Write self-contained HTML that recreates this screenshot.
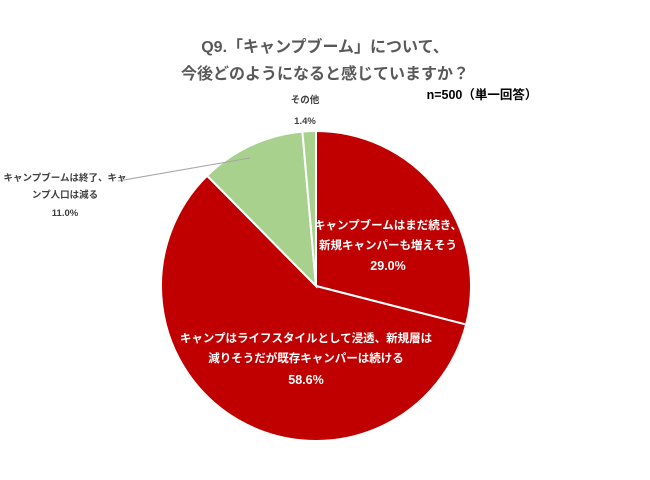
<!DOCTYPE html>
<html><head><meta charset="utf-8"><style>
body{margin:0;background:#fff;}
svg text{font-family:"Liberation Sans","Noto Sans CJK JP",sans-serif;font-weight:bold;}
</style></head><body>
<svg width="650" height="475">
<text x="325" y="52" text-anchor="middle" font-size="16" fill="#595959">Q9.「キャンプブーム」について、</text>
<text x="325" y="79" text-anchor="middle" font-size="16" fill="#595959">今後どのようになると感じていますか？</text>
<text x="482" y="99" text-anchor="middle" font-size="12.5" fill="#000">n=500（単一回答）</text>
<g id="slices"></g>
<line x1="118" y1="181" x2="250" y2="158" stroke="#a6a6a6" stroke-width="1"/>
<g font-size="9.5" fill="#404040" text-anchor="middle">
<text x="305" y="103">その他</text>
<text x="305" y="124">1.4%</text>
<text x="65" y="181">キャンプブームは終了、キャ</text>
<text x="65" y="198">ンプ人口は減る</text>
<text x="65" y="216">11.0%</text>
</g>
<g font-size="11.5" fill="#fff" text-anchor="middle">
<text x="388" y="229">キャンプブームはまだ続き、</text>
<text x="388" y="249">新規キャンパーも増えそう</text>
<text x="388" y="270" font-size="12.5">29.0%</text>
<text x="306" y="342">キャンプはライフスタイルとして浸透、新規層は</text>
<text x="306" y="362">減りそうだが既存キャンパーは続ける</text>
<text x="306" y="384" font-size="12.5">58.6%</text>
</g>
</svg>
<script>
const categories=["continue","settle","end","other"];
const values=[29.0,58.6,11.0,1.4];
const colors=["#C00000","#C00000","#A9D18E","#A9D18E"];
const cx=316,cy=286,r=155;
const g=document.getElementById('slices');
const total=values.reduce((a,b)=>a+b,0);
let a0=0;
values.forEach((v,i)=>{
  const a1=a0+v/total*2*Math.PI;
  const p=(a)=>[cx+r*Math.sin(a),cy-r*Math.cos(a)];
  const [x0,y0]=p(a0),[x1,y1]=p(a1);
  const large=(a1-a0)>Math.PI?1:0;
  const path=document.createElementNS('http://www.w3.org/2000/svg','path');
  path.setAttribute('d',`M${cx},${cy}L${x0},${y0}A${r},${r} 0 ${large} 1 ${x1},${y1}Z`);
  path.setAttribute('fill',colors[i]);
  path.setAttribute('stroke','#fff');
  path.setAttribute('stroke-width','2');
  
  
  g.appendChild(path);
  a0=a1;
});
</script>
</body></html>
